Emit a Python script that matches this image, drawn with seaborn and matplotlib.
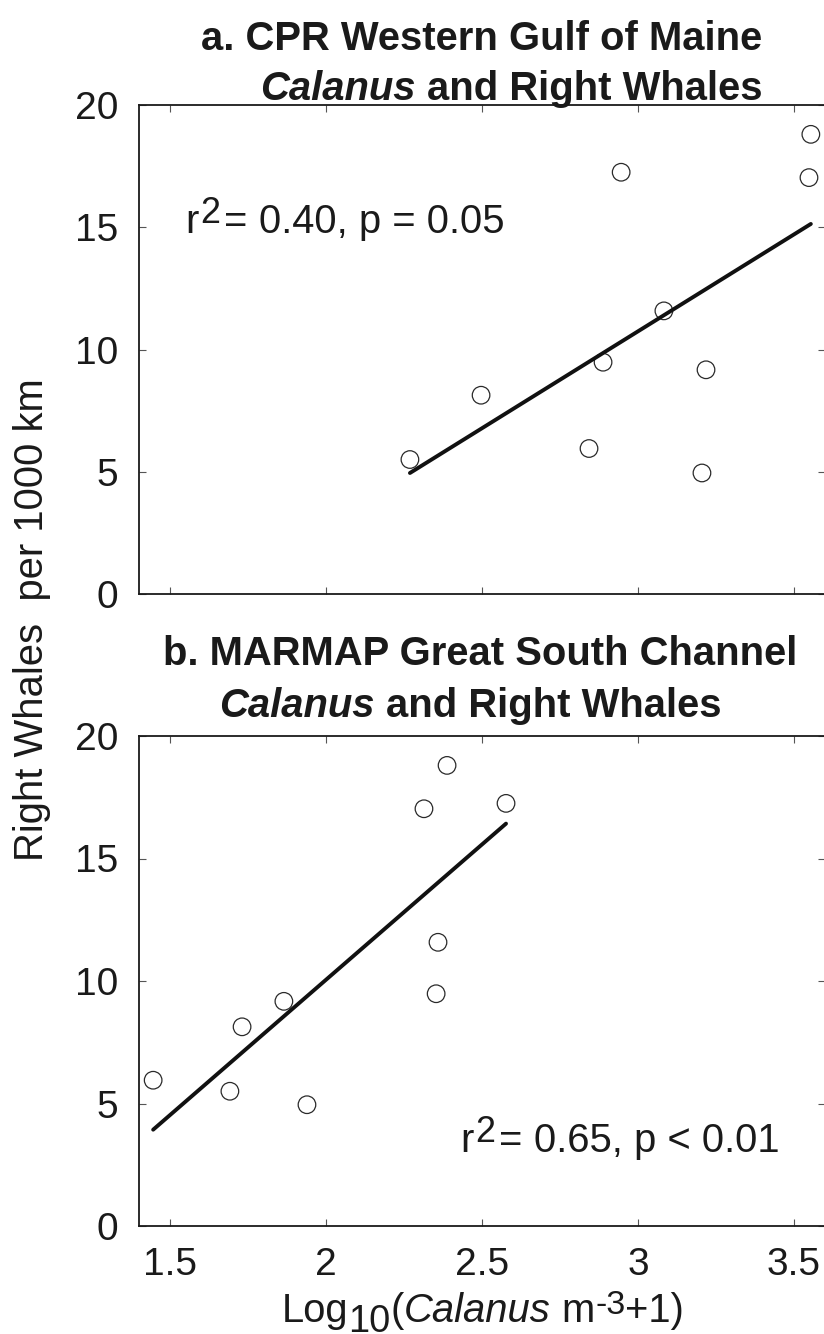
import numpy as np
import pandas as pd
import matplotlib
matplotlib.use("Agg")
import matplotlib.pyplot as plt
import seaborn as sns

# Right whale sightings per 1000 km paired with log10 Calanus abundance
whales_a = [4.95, 5.50, 5.95, 8.13, 9.17, 9.48, 11.58, 17.03, 17.25, 18.80]
calanus_a = [3.205, 2.269, 2.843, 2.497, 3.218, 2.888, 3.083, 3.548, 2.946, 3.554]

whales_b = [4.95, 5.50, 5.95, 8.13, 9.17, 9.48, 11.58, 17.03, 17.25, 18.80]
calanus_b = [1.939, 1.692, 1.446, 1.731, 1.865, 2.353, 2.359, 2.314, 2.577, 2.388]

x_ticks = [1.5, 2, 2.5, 3, 3.5]
x_ticklabels = ["1.5", "2", "2.5", "3", "3.5"]
y_ticks = [0, 5, 10, 15, 20]

stats_a = "0.40, p = 0.05"
stats_b = "0.65, p < 0.01"

W, H, DPI = 824, 1334, 100

sns.set_theme(style="ticks")
plt.rcParams["font.family"] = ["Liberation Sans", "DejaVu Sans"]
plt.rcParams["axes.linewidth"] = 1.3
plt.rcParams["axes.edgecolor"] = "#1a1a1a"

fig = plt.figure(figsize=(W / DPI, H / DPI), dpi=DPI)
fig.patch.set_facecolor("white")


def add_axes_px(left, top, right, bottom):
    return fig.add_axes([left / W, 1 - bottom / H, (right - left) / W, (bottom - top) / H])


ax_a = add_axes_px(138.8, 105, 825.2, 594)
ax_b = add_axes_px(138.8, 736, 825.2, 1226)

FS = 28.8
TICK_FS = 28


def draw_panel(ax, xs, ys):
    df = pd.DataFrame({"calanus": xs, "whales": ys})
    sns.scatterplot(data=df, x="calanus", y="whales", ax=ax, s=160,
                    facecolor="none", edgecolor="#2a2a2a", linewidth=0.9,
                    zorder=3, legend=False)
    sns.regplot(data=df, x="calanus", y="whales", ax=ax, scatter=False,
                ci=None, truncate=True,
                line_kws=dict(color="#111111", linewidth=2.8, zorder=4))
    ax.set_xlim(1.4, 3.6)
    ax.set_ylim(0, 20)
    ax.set_xticks(x_ticks)
    ax.set_yticks(y_ticks)
    ax.set_xlabel("")
    ax.set_ylabel("")
    ax.tick_params(direction="in", length=5, width=0.8, color="#555555",
                   top=True, right=True, labelsize=TICK_FS, pad=15,
                   labelcolor="#1a1a1a")
    for sp in ax.spines.values():
        sp.set_visible(True)


draw_panel(ax_a, calanus_a, whales_a)
draw_panel(ax_b, calanus_b, whales_b)
ax_a.set_xticklabels([])
ax_b.set_xticklabels(x_ticklabels)

renderer = fig.canvas.get_renderer()


def text_runs(x, y, runs, ha="left", size=FS, color="#1a1a1a"):
    """Lay out styled text pieces side by side; x, y in pixels (y from top, baseline)."""
    objs = []
    for s, kw in runs:
        kw = dict(kw)
        gap = kw.pop("gap", 0.0)
        dy = kw.pop("dy", 0.0)
        scale = kw.pop("scale", 1.0)
        t = fig.text(0, 1 - (y - dy) / H, s, va="baseline", ha="left",
                     fontsize=size * scale, color=color, **kw)
        objs.append((t, gap))
    widths = [t.get_window_extent(renderer).width for t, _ in objs]
    total = sum(widths) + sum(g for _, g in objs)
    cur = x - total / 2 if ha == "center" else x
    for (t, gap), w in zip(objs, widths):
        cur += gap
        t.set_x(cur / W)
        cur += w
    return objs


SP = 0.278 * FS * DPI / 72  # width of a space in pixels

# Panel titles
B = dict(fontweight="bold")
BI = dict(fontweight="bold", fontstyle="italic")
text_runs(482, 50, [("a. CPR Western Gulf of Maine", B)], ha="center")
text_runs(511, 100, [("Calanus", BI), ("and Right Whales", dict(B, gap=SP))], ha="center")
text_runs(480, 665, [("b. MARMAP Great South Channel", B)], ha="center")
text_runs(470, 717, [("Calanus", BI), ("and Right Whales", dict(B, gap=SP))], ha="center")

# Regression statistics
text_runs(185, 233, [("r", {}), ("2", dict(dy=10, scale=0.9, gap=2)),
                     ("=", dict(gap=4)), (stats_a, dict(gap=SP))])
text_runs(460, 1152, [("r", {}), ("2", dict(dy=10, scale=0.9, gap=2)),
                      ("=", dict(gap=4)), (stats_b, dict(gap=SP))])

# Axis labels
text_runs(483, 1322, [("Log", {}), ("10", dict(dy=-10, scale=0.95)),
                      ("(", {}), ("Calanus", dict(fontstyle="italic")),
                      ("m", dict(gap=SP)), ("-3", dict(dy=8, scale=0.85)),
                      ("+1)", {})], ha="center")
fig.text(32 / W, 1 - 620 / H, "Right Whales  per 1000 km", rotation=90,
         ha="center", va="center", fontsize=FS, color="#1a1a1a")

fig.savefig("out.png", dpi=DPI, facecolor="white")
